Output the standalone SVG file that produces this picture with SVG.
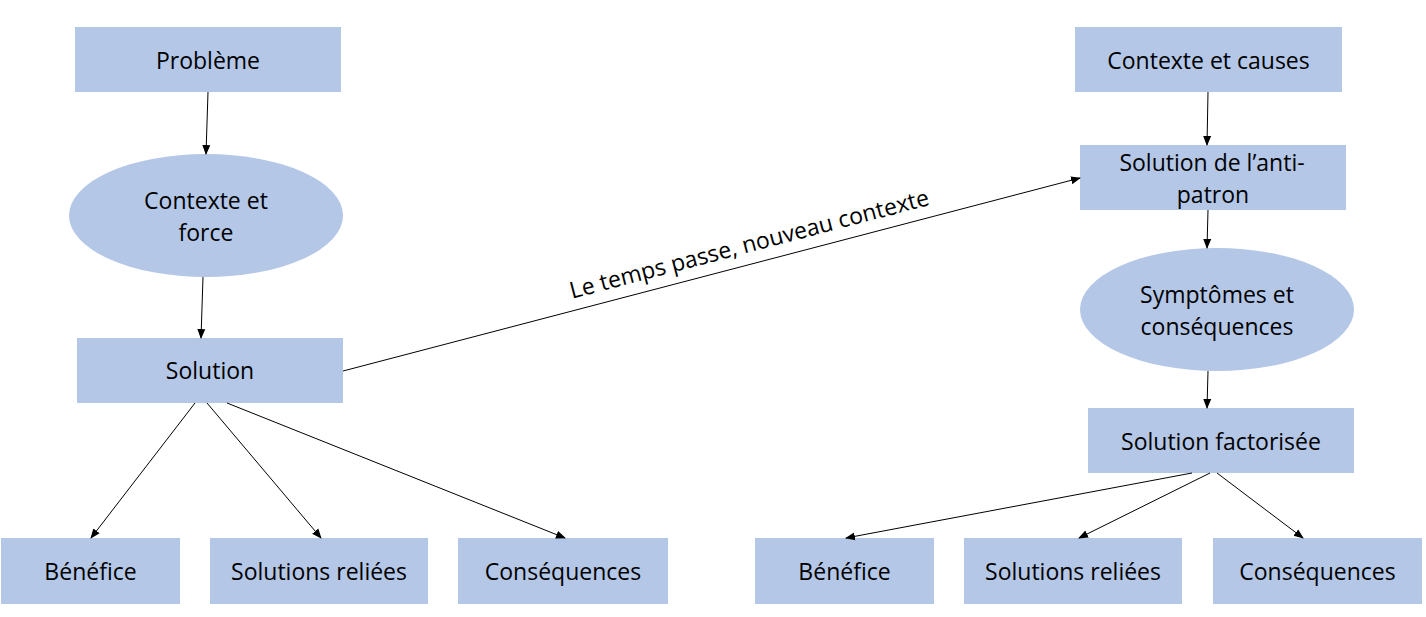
<svg xmlns="http://www.w3.org/2000/svg" width="1426" height="617" viewBox="0 0 1426 617">
<defs>
<marker id="ah" markerWidth="10" markerHeight="10" refX="9" refY="5" orient="auto" markerUnits="userSpaceOnUse">
<path d="M0,1 L10,5 L0,9 Z" fill="#000"/>
</marker>
<style>
.n{fill:#B4C7E7;stroke:none}
.t{font-family:"Open Sans","Noto Sans",sans-serif;font-size:23px;fill:#000;text-anchor:middle;dominant-baseline:central}
.c{stroke:#000;stroke-width:1;fill:none;marker-end:url(#ah)}
</style>
</defs>
<rect width="1426" height="617" fill="#fff"/>
<g id="probleme"><rect class="n" x="75" y="27" width="266" height="65"/><text class="t" x="208" y="60">Problème</text></g>
<g id="contexte-force"><ellipse class="n" cx="206" cy="215.5" rx="137" ry="61.5"/><text class="t" x="206" y="200">Contexte et</text><text class="t" x="206" y="232">force</text></g>
<g id="solution"><rect class="n" x="77" y="338" width="266" height="65"/><text class="t" x="210" y="370">Solution</text></g>
<g id="benefice-l"><rect class="n" x="1" y="538" width="179" height="66"/><text class="t" x="90.5" y="571">Bénéfice</text></g>
<g id="solutions-reliees-l"><rect class="n" x="210" y="538" width="218" height="66"/><text class="t" x="319" y="571">Solutions reliées</text></g>
<g id="consequences-l"><rect class="n" x="458" y="538" width="210" height="66"/><text class="t" x="563" y="571">Conséquences</text></g>
<g id="contexte-causes"><rect class="n" x="1075" y="27" width="267" height="65"/><text class="t" x="1208.5" y="60">Contexte et causes</text></g>
<g id="anti-patron"><rect class="n" x="1080" y="145" width="266" height="65"/><text class="t" x="1212" y="162">Solution de l’anti-</text><text class="t" x="1213" y="194">patron</text></g>
<g id="symptomes"><ellipse class="n" cx="1217" cy="309.5" rx="137" ry="61.5"/><text class="t" x="1217" y="294">Symptômes et</text><text class="t" x="1217" y="326">conséquences</text></g>
<g id="factorisee"><rect class="n" x="1088" y="408" width="266" height="65"/><text class="t" x="1221" y="441">Solution factorisée</text></g>
<g id="benefice-r"><rect class="n" x="755" y="538" width="179" height="66"/><text class="t" x="844.5" y="571">Bénéfice</text></g>
<g id="solutions-reliees-r"><rect class="n" x="964" y="538" width="218" height="66"/><text class="t" x="1073" y="571">Solutions reliées</text></g>
<g id="consequences-r"><rect class="n" x="1213" y="538" width="209" height="66"/><text class="t" x="1317.5" y="571">Conséquences</text></g>
<g id="connectors">
<line class="c" x1="208" y1="92" x2="206" y2="154"/>
<line class="c" x1="203" y1="277" x2="201" y2="338"/>
<line class="c" x1="195" y1="403" x2="91" y2="538"/>
<line class="c" x1="207" y1="403" x2="321" y2="538"/>
<line class="c" x1="227" y1="403" x2="565" y2="538"/>
<line class="c" x1="343" y1="371" x2="1080" y2="178"/>
<line class="c" x1="1208" y1="92" x2="1207" y2="145"/>
<line class="c" x1="1208" y1="210" x2="1207" y2="248"/>
<line class="c" x1="1208" y1="371" x2="1207" y2="408"/>
<line class="c" x1="1192" y1="473" x2="846" y2="538"/>
<line class="c" x1="1210" y1="473" x2="1079" y2="538"/>
<line class="c" x1="1217" y1="473" x2="1303" y2="538"/>
<text class="t" x="749" y="243" transform="rotate(-14.7 749 243)">Le temps passe, nouveau contexte</text>
</g>
</svg>
